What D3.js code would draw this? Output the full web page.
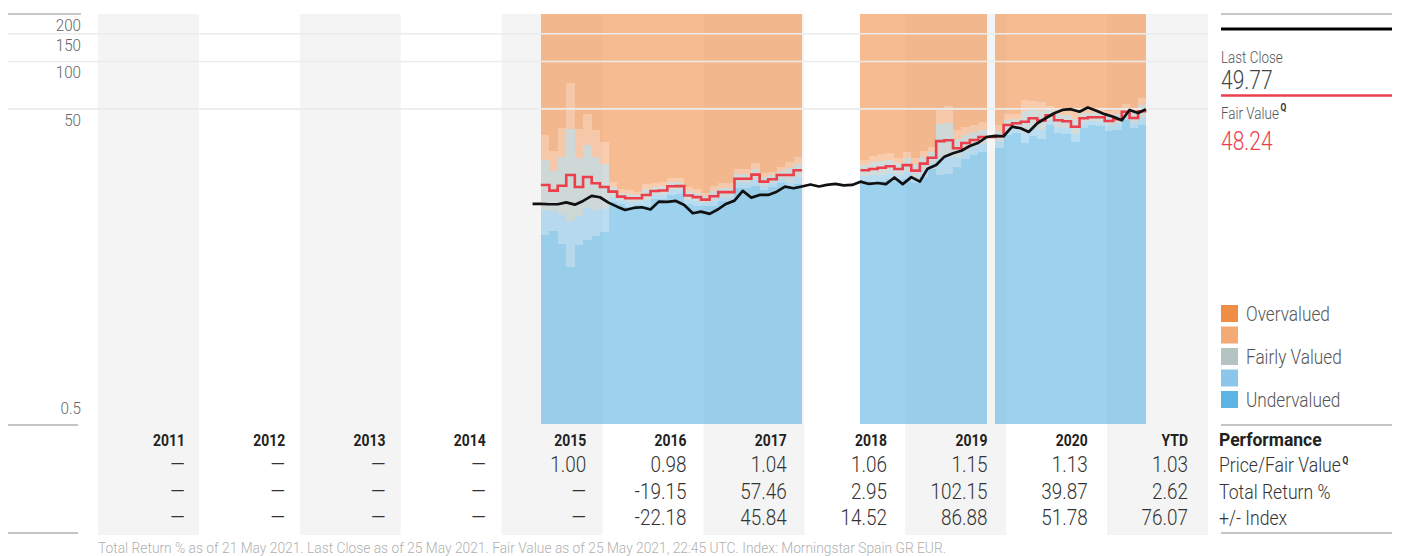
<!DOCTYPE html>
<html><head><meta charset="utf-8">
<script src="https://cdn.jsdelivr.net/npm/d3@7"></script>
<style>
html,body{margin:0;padding:0;background:#fff;}
svg{display:block;}
text{font-family:Roboto,"Liberation Sans",sans-serif;}
</style></head><body>
<svg id="chart" width="1412" height="556"></svg>
<script>
// ---------- data ----------
const years = ["2011","2012","2013","2014","2015","2016","2017","2018","2019","2020","YTD"];
const priceFairValue = [null,null,null,null,"1.00","0.98","1.04","1.06","1.15","1.13","1.03"];
const totalReturn = [null,null,null,null,null,"-19.15","57.46","2.95","102.15","39.87","2.62"];
const plusMinusIndex = [null,null,null,null,null,"-22.18","45.84","14.52","86.88","51.78","76.07"];
const rowLabels = ["Price/Fair Value","Total Return %","+/- Index"];

const yTicks = [200,150,100,50,0.5];

// monthly close (23rd of each month)
const priceMonths = ["2015-04","2015-05","2015-06","2015-07","2015-08","2015-09","2015-10","2015-11","2015-12",
 "2016-01","2016-02","2016-03","2016-04","2016-05","2016-06","2016-07","2016-08","2016-09","2016-10","2016-11","2016-12",
 "2017-01","2017-02","2017-03","2017-04","2017-05","2017-06","2017-07","2017-08","2017-09","2017-10","2017-11","2017-12",
 "2018-01","2018-02","2018-03","2018-04","2018-05","2018-06","2018-07","2018-08","2018-09","2018-10","2018-11","2018-12",
 "2019-01","2019-02","2019-03","2019-04","2019-05","2019-06","2019-07","2019-08","2019-09","2019-10","2019-11","2019-12",
 "2020-01","2020-02","2020-03","2020-04","2020-05","2020-06","2020-07","2020-08","2020-09","2020-10","2020-11","2020-12",
 "2021-01","2021-02","2021-03","2021-04","2021-05"];
const priceValues = [12.46,12.46,12.41,12.41,12.74,12.33,13.02,14.01,13.74,
 12.70,11.98,11.41,11.75,11.87,11.50,12.89,12.83,13.02,12.28,10.88,11.13,
 10.77,11.53,12.46,13.08,15.07,13.66,14.21,14.21,14.91,16.04,15.67,16.09,
 16.57,16.09,16.45,16.69,16.33,16.45,17.26,16.69,16.93,16.64,18.35,16.64,
 18.43,17.26,20.87,22.03,24.87,26.13,27.11,29.08,30.47,33.16,33.65,33.52,
 38.55,37.66,35.67,40.51,43.58,46.88,49.20,49.77,47.99,51.03,48.63,46.27,
 44.61,42.33,49.20,47.09,49.77];

// fair value periods (each starts on the 23rd of the month), three runs
const fvMonths1 = ["2015-05","2015-06","2015-07","2015-08","2015-09","2015-10","2015-11","2015-12",
 "2016-01","2016-02","2016-03","2016-04","2016-05","2016-06","2016-07","2016-08","2016-09","2016-10","2016-11","2016-12",
 "2017-01","2017-02","2017-03","2017-04","2017-05","2017-06","2017-07","2017-08","2017-09","2017-10","2017-11"];
const fairValue1 = [16.44,15.13,16.25,19.03,15.97,18.49,16.86,15.97,
 14.91,13.86,13.54,13.54,14.21,15.07,15.18,16.14,16.16,14.11,13.76,13.28,
 13.94,14.80,14.80,18.00,18.00,19.14,17.26,17.87,19.03,19.03,20.39];
const bandOuter1 = [2.076,1.794,2.334,3.817,2.344,2.512,2.169,1.930,
 1.157,1.114,1.129,1.101,1.174,1.129,1.129,1.131,1.124,1.135,1.131,1.103,
 1.157,1.141,1.141,1.146,1.146,1.186,1.131,1.117,1.129,1.214,1.216];
const bandInner1 = [1.441,1.339,1.528,1.954,1.531,1.585,1.473,1.389,
 1.076,1.055,1.063,1.049,1.084,1.063,1.063,1.063,1.060,1.065,1.063,1.050,
 1.076,1.068,1.068,1.071,1.071,1.089,1.063,1.057,1.063,1.102,1.103];

const fvMonths2 = ["2018-07","2018-08","2018-09","2018-10","2018-11","2018-12",
 "2019-01","2019-02","2019-03","2019-04","2019-05","2019-06","2019-07","2019-08","2019-09"];
const fairValue2 = [20.39,20.78,21.14,21.61,20.78,21.96,20.27,22.45,24.50,31.19,31.60,28.11,30.38,31.73,33.16];
const bandOuter2 = [1.166,1.209,1.218,1.209,1.180,1.218,1.199,1.209,1.174,1.629,1.643,1.307,1.263,1.245,1.238];
const bandInner2 = [1.080,1.100,1.104,1.100,1.086,1.104,1.095,1.100,1.084,1.276,1.282,1.143,1.124,1.116,1.113];

const fvMonths3 = ["2019-11","2019-12","2020-01","2020-02","2020-03","2020-04","2020-05","2020-06","2020-07",
 "2020-08","2020-09","2020-10","2020-11","2020-12","2021-01","2021-02","2021-03","2021-04"];
const fairValue3 = [33.50,39.51,40.51,41.46,43.57,42.20,45.53,42.32,41.70,38.54,43.57,44.28,44.28,41.89,42.94,47.98,43.76,48.24];
const bandOuter3 = [1.180,1.166,1.149,1.373,1.288,1.305,1.151,1.202,1.209,1.245,1.157,1.127,1.139,1.157,1.162,1.124,1.152,1.213];
const bandInner3 = [1.086,1.080,1.072,1.172,1.135,1.142,1.073,1.096,1.100,1.116,1.076,1.062,1.067,1.076,1.078,1.060,1.073,1.101];

const lastClose = "49.77";
const lastFairValue = "48.24";
const legendItems = ["Overvalued","","Fairly Valued","","Undervalued"];
const legendColors = ["#F08E48","#F4AA76","#B3C4C3","#8CC6EA","#5CB4E5"];
const footer = "Total Return % as of 21 May 2021. Last Close as of 25 May 2021. Fair Value as of 25 May 2021, 22:45 UTC. Index: Morningstar Spain GR EUR.";

// ---------- layout ----------
const svg = d3.select("#chart");
const pL = 98, pR = 1208, pT = 14, pB = 424, tableBottom = 535;
const parseDay = d3.timeParse("%Y-%m-%d");
const pm = m => parseDay(m + "-23");

const x = d3.scaleTime().domain([new Date(2011,0,1), new Date(2022,0,1)]).range([pL, pR]);
const y = d3.scaleLog().domain([0.5, 200]).range([pB, pT]);
const col = d3.scaleBand().domain(years).range([pL, pR]);

// condensed-looking text helper
function label(parent, tx, ty, str, o = {}){
  const g = parent.append("g").attr("transform", `translate(${tx},${ty}) scale(${o.sx ?? 0.84},1)`);
  const t = g.append("text").attr("font-size", o.size || 16).attr("font-weight", o.weight || 300)
    .attr("fill", o.fill || "#555").attr("text-anchor", o.anchor || "start");
  if (str != null) t.text(str);
  return t;
}

// column backgrounds
svg.append("g").selectAll("rect").data(years.filter((d,i)=>i%2===0)).join("rect")
  .attr("x", d=>col(d)).attr("y", pT).attr("width", col.bandwidth()).attr("height", tableBottom-pT)
  .attr("fill", "#f4f4f4");

// valuation bands
function segPoints(months, fv, o, n){
  const pts = months.map((m,i)=>({d: pm(m), fv: fv[i], o: o[i], n: n[i]}));
  const last = pts[pts.length-1];
  pts.push({d: d3.timeMonth.offset(last.d, 1), fv: last.fv, o: last.o, n: last.n});
  return pts;
}
const segs = [
  segPoints(fvMonths1, fairValue1, bandOuter1, bandInner1),
  segPoints(fvMonths2, fairValue2, bandOuter2, bandInner2),
  segPoints(fvMonths3, fairValue3, bandOuter3, bandInner3)
];
const bands = [
  {c: legendColors[0], lo: d=>d.fv*d.o, hi: d=>200},
  {c: legendColors[1], lo: d=>d.fv*d.n, hi: d=>d.fv*d.o},
  {c: legendColors[2], lo: d=>d.fv/d.n, hi: d=>d.fv*d.n},
  {c: legendColors[3], lo: d=>d.fv/d.o, hi: d=>d.fv/d.n},
  {c: legendColors[4], lo: d=>0.5, hi: d=>d.fv/d.o}
];
const gBands = svg.append("g");
segs.forEach(s=>{
  bands.forEach(b=>{
    const area = d3.area().curve(d3.curveStepAfter)
      .x(d=>x(d.d)).y0(d=>y(b.lo(d))).y1(d=>y(b.hi(d)));
    gBands.append("path").attr("d", area(s)).attr("fill", b.c).attr("fill-opacity", 0.6)
      .attr("shape-rendering","crispEdges");
  });
});

// gridlines
svg.append("g").selectAll("line").data(yTicks.filter(v=>v!==200 && v!==0.5)).join("line")
  .attr("x1", 8).attr("x2", pR).attr("y1", d=>y(d)).attr("y2", d=>y(d))
  .attr("stroke", "#ebebeb").attr("stroke-width", 1.6);
// margin rules
const rule = (x1,x2,yy,c,w)=>svg.append("line").attr("x1",x1).attr("x2",x2).attr("y1",yy).attr("y2",yy).attr("stroke",c).attr("stroke-width",w);
rule(8, 81, pT, "#b5b5b5", 1.5);
rule(8, 78, pB+1, "#c4c4c4", 2);
rule(8, 78, 533, "#c4c4c4", 2);

// y labels
const gy = svg.append("g");
yTicks.forEach(v=>{
  label(gy, 81, v===0.5 ? y(v)-10 : y(v)+17, v, {size:16, sx:0.95, anchor:"end", fill:"#666"});
});

// fair value line
const fvLine = d3.line().curve(d3.curveStepAfter).x(d=>x(d.d)).y(d=>y(d.fv));
svg.append("path").attr("d", fvLine(segs[0])).attr("fill","none").attr("stroke","#EC3F4B").attr("stroke-width",2.6);
svg.append("path").attr("d", fvLine(segs[1].concat(segs[2]))).attr("fill","none").attr("stroke","#EC3F4B").attr("stroke-width",2.6);

// price line
const pricePts = priceMonths.map((m,i)=>({d: i===priceMonths.length-1 ? parseDay(m+"-21") : pm(m), v: priceValues[i]}));
svg.append("path").attr("d", d3.line().x(d=>x(d.d)).y(d=>y(d.v))(pricePts))
  .attr("fill","none").attr("stroke","#111").attr("stroke-width",2.7).attr("stroke-linejoin","round");

// ---------- right panel ----------
const rx = 1221, rx2 = 1392;
const gr = svg.append("g");
rule(rx, rx2, pT, "#b5b5b5", 1.5);
rule(rx, rx2, 29, "#000", 3);
label(gr, rx, 63, "Last Close", {size:16});
label(gr, rx, 89, lastClose, {size:25, fill:"#444"});
rule(rx, rx2, 95.5, "#EC3F4B", 2.5);
const fvLab = label(gr, rx, 119, null, {size:16});
fvLab.append("tspan").text("Fair Value");
fvLab.append("tspan").attr("dx",2).attr("dy",-8).attr("font-size",10).attr("font-weight","bold").attr("fill","#333").text("Q");
label(gr, rx, 150, lastFairValue, {size:25, fill:"#EC3F4B"});

// legend
const lg = svg.append("g");
legendColors.forEach((c,i)=>{
  const yy = 305 + i*21.5;
  lg.append("rect").attr("x",rx).attr("y",yy).attr("width",17).attr("height",17).attr("fill",c);
  if (legendItems[i]) label(lg, 1246, yy+15.5, legendItems[i], {size:20.5});
});
rule(rx, rx2, pB+1, "#c4c4c4", 2);
rule(rx, rx2, 533, "#c4c4c4", 2);

// ---------- table ----------
const tx = (i)=> col(years[i]) + col.bandwidth() - 14 - 0.6*i;
const tg = svg.append("g");
years.forEach((yr,i)=>{
  label(tg, tx(i), 446, yr, {size:17, weight:"bold", fill:"#222", anchor:"end", sx:0.82});
  [priceFairValue, totalReturn, plusMinusIndex].forEach((arr,r)=>{
    label(tg, tx(i), 472 + r*26.5, arr[i]===null ? "—" : arr[i], {size:22, fill:"#333", anchor:"end", sx:0.86});
  });
});
label(tg, 1219, 446, "Performance", {size:17.5, weight:"bold", fill:"#222", sx:1});
rowLabels.forEach((l,r)=>{
  const t = label(tg, 1219, 472 + r*26.5, null, {size:21, fill:"#333"});
  t.append("tspan").text(l);
  if (r===0) t.append("tspan").attr("dx",2).attr("dy",-8).attr("font-size",10).attr("font-weight","bold").text("Q");
});

svg.append("text").attr("x",pL).attr("y",553).attr("font-size",14).attr("font-weight",300).attr("fill","#b0b0b0")
  .attr("textLength",848).attr("lengthAdjust","spacingAndGlyphs").text(footer);
</script>
</body></html>
